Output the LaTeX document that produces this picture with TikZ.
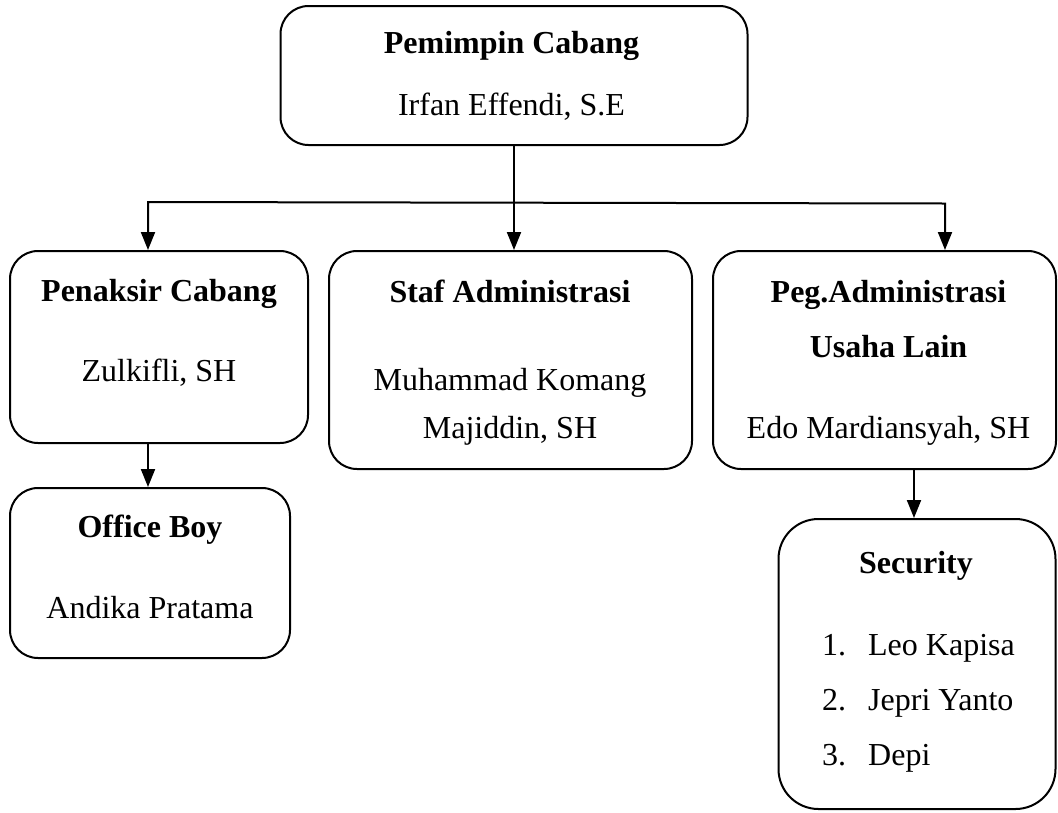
\documentclass[tikz,border=0pt]{standalone}
\usepackage{fontspec}
\setmainfont{Liberation Serif}
\usetikzlibrary{arrows.meta}

\begin{document}
\begin{tikzpicture}[x=1pt,y=-1pt,
  >={Triangle[length=18pt,width=14pt]},
  box/.style={draw,rounded corners=28pt,line width=2pt,inner sep=0pt},
  jabatan/.style={anchor=base,inner sep=0pt,font=\fontsize{32}{38}\selectfont\bfseries},
  pegawai/.style={anchor=base,inner sep=0pt,font=\fontsize{32}{38}\selectfont},
  arr/.style={->,line width=2pt}]
\useasboundingbox (0,0) rectangle (1058,812);
% boxes
\node[box,minimum width=467pt,minimum height=139pt] (pemimpin) at (514,75.5) {};
\node[box,minimum width=298pt,minimum height=192pt] (penaksir) at (159,347) {};
\node[box,minimum width=363pt,minimum height=218pt] (staf) at (510.5,360) {};
\node[box,minimum width=343pt,minimum height=218pt] (peg) at (884.5,360) {};
\node[box,minimum width=280pt,minimum height=170pt] (office) at (150,573) {};
\node[box,rounded corners=40pt,minimum width=277pt,minimum height=290pt] (security) at (917,664) {};
% texts
\node[jabatan] (pemimpin-t) at (511.5,53) {Pemimpin Cabang};
\node[pegawai] (pemimpin-n) at (511.5,115) {Irfan Effendi, S.E};
\node[jabatan] (penaksir-t) at (159,301) {Penaksir Cabang};
\node[pegawai] (penaksir-n) at (159,381) {Zulkifli, SH};
\node[jabatan] (staf-t) at (510,302) {Staf Administrasi};
\node[pegawai] (staf-n1) at (510,390) {Muhammad Komang};
\node[pegawai] (staf-n2) at (510,438) {Majiddin, SH};
\node[jabatan] (peg-t1) at (888.5,302) {Peg.Administrasi};
\node[jabatan] (peg-t2) at (888.5,357) {Usaha Lain};
\node[pegawai] (peg-n) at (888.5,438) {Edo Mardiansyah, SH};
\node[jabatan] (office-t) at (150,537) {Office Boy};
\node[pegawai] (office-n) at (150,618) {Andika Pratama};
\node[jabatan] (security-t) at (916,573) {Security};
\foreach \i/\who/\yy in {1/Leo Kapisa/655,2/Jepri Yanto/710,3/Depi/765}
  \node[pegawai,anchor=base west] (security-\i) at (822,\yy) {\makebox[46pt][l]{\i.}\who};
% connectors
\coordinate (busL) at (148,202);
\coordinate (busR) at (945,203.5);
\draw[arr] (pemimpin.south) -- (pemimpin.south |- staf.north);
\draw[arr,<->] (busL |- penaksir.north) -- (busL) -- (busR) -- (busR |- peg.north);
\draw[arr] (busL |- penaksir.south) -- (busL |- office.north);
\draw[arr] ([xshift=-3pt]security.north |- peg.south) -- ([xshift=-3pt]security.north);
\end{tikzpicture}
\end{document}
